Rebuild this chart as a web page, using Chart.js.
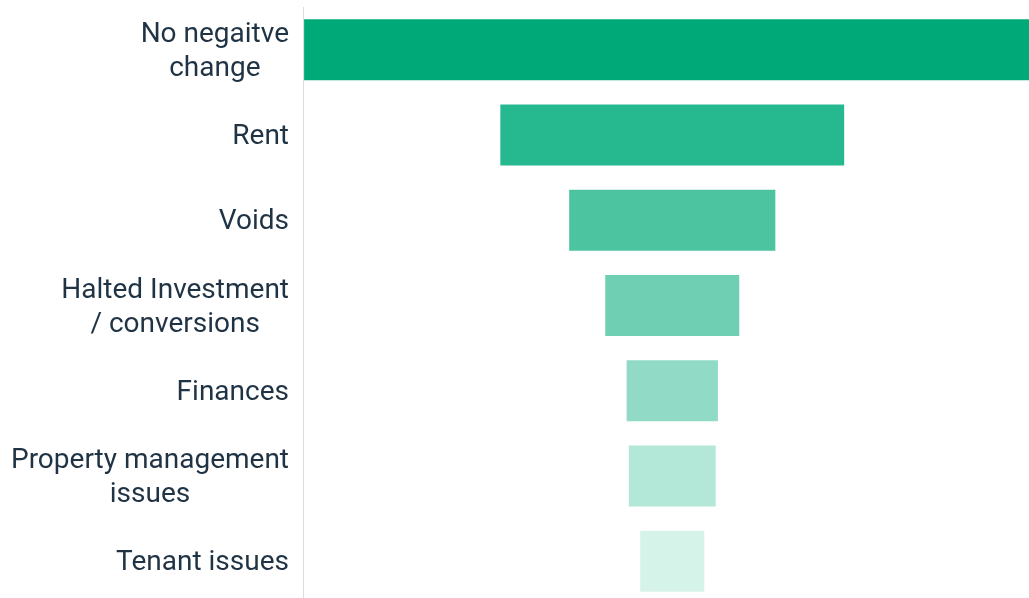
<!DOCTYPE html>
<html>
<head>
<meta charset="utf-8">
<script src="https://cdn.jsdelivr.net/npm/chart.js@4"></script>
<style>
    html, body { margin: 0; padding: 0; background: #fff; overflow: hidden; }
    #wrap { width: 1029px; height: 604px; position: relative; }
</style>
</head>
<body>
<div id="wrap"><canvas id="funnel"></canvas></div>
<script>
// Категории воронки
const categories = [
    ['No negaitve', 'change'],
    'Rent',
    'Voids',
    ['Halted Investment', '/ conversions'],
    'Finances',
    ['Property management', 'issues'],
    'Tenant issues'
];
// Относительные значения (первая полоса = 100)
const values = [100, 46.7, 28.0, 18.2, 12.4, 11.8, 8.7];
const barColors = ['#00aa78', '#26b88f', '#4cc4a0', '#6fcfb3', '#91dbc6', '#b3e7d8', '#d6f3ea'];

const center = 50.15;
const labelFont = '28px Roboto';
const labelColor = '#1f3344';

// Полосы строятся от центра в обе стороны
const floating = values.map(v => [center - v / 2, center + v / 2]);

// Подписи: однострочные выравниваются вправо, многострочные центрируются по самой длинной строке
const funnelLabels = {
    id: 'funnelLabels',
    afterDraw(chart) {
        const ctx = chart.ctx;
        const yScale = chart.scales.y;
        const right = chart.chartArea.left - 14;
        const lineH = 34;
        ctx.save();
        ctx.font = labelFont;
        ctx.fillStyle = labelColor;
        ctx.textAlign = 'center';
        ctx.textBaseline = 'middle';
        categories.forEach((cat, i) => {
            const lines = Array.isArray(cat) ? cat : [cat];
            const maxW = Math.max(...lines.map(l => ctx.measureText(l).width));
            const cx = right - maxW / 2;
            const yc = yScale.getPixelForTick(i) + 2;
            lines.forEach((line, j) => {
                ctx.fillText(line, cx, yc + (j - (lines.length - 1) / 2) * lineH);
            });
        });
        ctx.restore();
    }
};

new Chart(document.getElementById('funnel'), {
    type: 'bar',
    data: {
        labels: categories,
        datasets: [{
            data: floating,
            backgroundColor: barColors,
            borderWidth: 0,
            borderSkipped: false,
            categoryPercentage: 0.715,
            barPercentage: 1
        }]
    },
    options: {
        indexAxis: 'y',
        responsive: true,
        maintainAspectRatio: false,
        animation: false,
        layout: { padding: { top: 7, right: 0, bottom: 0, left: 0 } },
        plugins: {
            legend: { display: false },
            tooltip: { enabled: false }
        },
        scales: {
            x: {
                display: false,
                min: 0,
                max: 98.6
            },
            y: {
                grid: { display: false },
                border: { display: true, color: '#dcdcdc', width: 1 },
                ticks: { display: false },
                afterFit(scale) { scale.width = 303; }
            }
        }
    },
    plugins: [funnelLabels]
});
</script>
</body>
</html>
